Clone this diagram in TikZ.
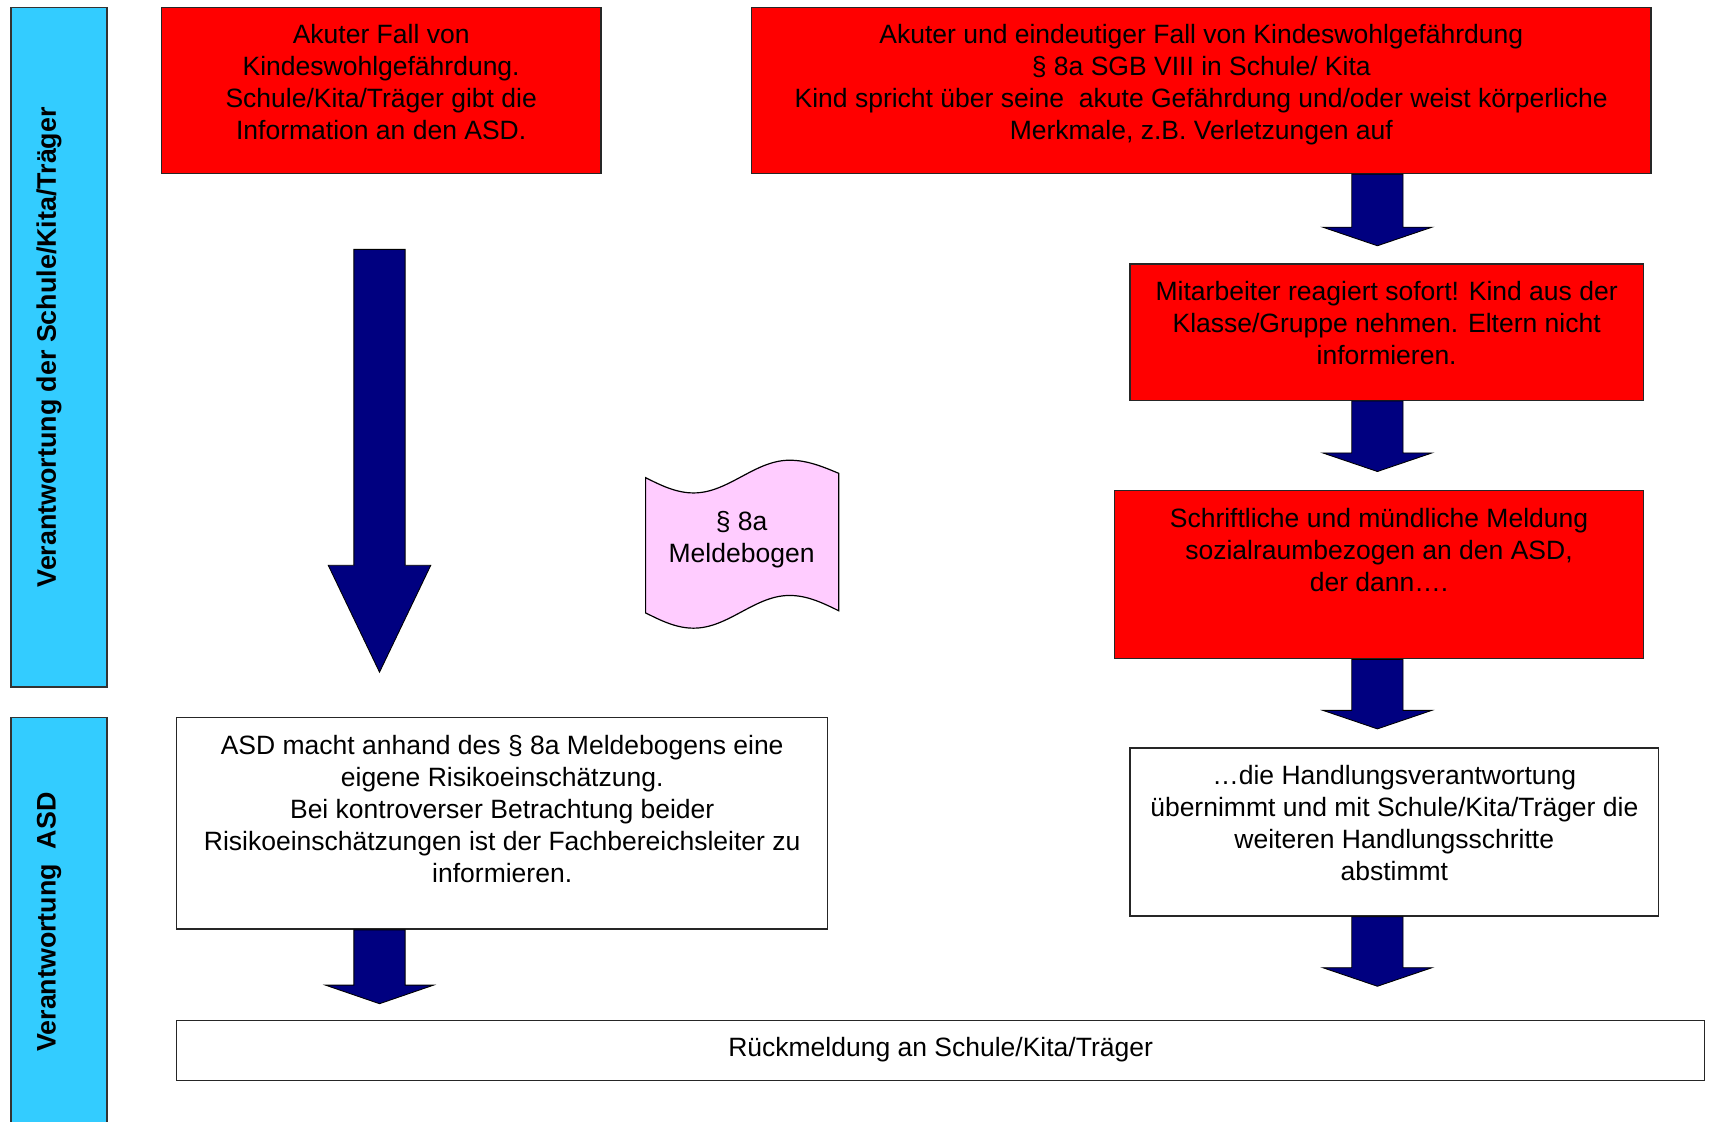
\documentclass[tikz,border=0pt]{standalone}
\usepackage{fontspec}
\setmainfont{Liberation Sans}
\usetikzlibrary{calc}
\definecolor{bandcyan}{HTML}{33CCFF}
\definecolor{boxred}{HTML}{FF0000}
\definecolor{arrnavy}{HTML}{000080}
\definecolor{tapepink}{HTML}{FFCCFF}
\tikzset{
  band/.style={draw=black!80, line width=1.3pt, fill=bandcyan, inner sep=0pt},
  redbox/.style={draw=black!85, line width=1.3pt, fill=boxred, inner sep=0pt},
  whitebox/.style={draw=black!85, line width=1.3pt, fill=white, inner sep=0pt},
  txt/.style={font=\fontsize{24.3}{29.3}\selectfont, align=center, inner sep=0pt, anchor=north},
  bandtxt/.style={font=\fontsize{24.6}{29.3}\selectfont\bfseries, inner sep=0pt, rotate=90},
  arrowfill/.style={fill=arrnavy, draw=black, line width=0.8pt, line join=miter},
  tape/.style={fill=tapepink, draw=black, line width=1.1pt}
}
% block arrow: start, tip, half shaft width, half head width, head length
\newcommand{\blockarr}[5]{%
  \path[arrowfill] let \p1=#1, \p2=#2 in
    (\x1-#3,\y1) -- (\x1+#3,\y1) -- (\x1+#3,\y2+#5) -- (\x1+#4,\y2+#5)
    -- (\x1,\y2) -- (\x1-#4,\y2+#5) -- (\x1-#3,\y2+#5) -- cycle;}
\begin{document}
\begin{tikzpicture}[x=1pt, y=-1pt]
\useasboundingbox (0,0) rectangle (1568,1028);

% lanes
\node[band, minimum width=88pt, minimum height=623pt] (lane1) at (54,318.5) {};
\node[band, minimum width=88pt, minimum height=382pt] (lane2) at (54,849) {};
\node[bandtxt] (lane1t) at (45,318.5) {Verantwortung der Schule/Kita/Träger};
\node[bandtxt] (lane2t) at (45,845.5) {Verantwortung\ \ ASD};

% boxes
\node[redbox, minimum width=403pt, minimum height=152pt] (A) at (349.5,83) {};
\node[redbox, minimum width=825pt, minimum height=152pt] (B) at (1101.5,83) {};
\node[redbox, minimum width=471pt, minimum height=125pt] (C) at (1271.5,304.5) {};
\node[redbox, minimum width=485pt, minimum height=154pt] (D) at (1264.5,527) {};
\node[whitebox, minimum width=485pt, minimum height=154pt] (E) at (1278.5,763) {};
\node[whitebox, minimum width=597pt, minimum height=194pt] (F) at (460.5,755) {};
\node[whitebox, minimum width=1401pt, minimum height=55pt] (G) at (862.5,963.5) {};

% texts
\node[txt] (At) at ($(A.north)+(0,12.5)$) {\strut Akuter Fall von\\Kindeswohlgefährdung.\\Schule/Kita/Träger gibt die\\Information an den ASD.};
\node[txt] (Bt) at ($(B.north)+(0,12.5)$) {\strut Akuter und eindeutiger Fall von Kindeswohlgefährdung\\§ 8a SGB VIII in Schule/ Kita\\Kind spricht über seine\ \ akute Gefährdung und/oder weist körperliche\\Merkmale, z.B. Verletzungen auf};
\node[txt] (Ct) at ($(C.north)+(0,13.5)$) {\strut Mitarbeiter reagiert sofort! Kind aus der\\Klasse/Gruppe nehmen. Eltern nicht\\informieren.};
\node[txt] (Dt) at ($(D.north)+(0,13.5)$) {\strut Schriftliche und mündliche Meldung\\sozialraumbezogen an den ASD,\\der dann….};
\node[txt] (Et) at ($(E.north)+(0,13.5)$) {\strut …die Handlungsverantwortung\\übernimmt und mit Schule/Kita/Träger die\\weiteren Handlungsschritte\\abstimmt};
\node[txt] (Ft) at ($(F.north)+(0,13.5)$) {\strut ASD macht anhand des § 8a Meldebogens eine\\eigene Risikoeinschätzung.\\Bei kontroverser Betrachtung beider\\Risikoeinschätzungen ist der Fachbereichsleiter zu\\informieren.};
\node[txt] (Gt) at ($(G.north)+(0,12.5)$) {\strut Rückmeldung an Schule/Kita/Träger};

% tape shape (Meldebogen)
\draw[tape] (592,438) sin (636,452) cos (680,437) sin (724,422) cos (769,434)
  -- (769,560) sin (724,546) cos (680,561) sin (636,576) cos (592,562) -- cycle;
\node[txt] (Mt) at (680,466) {\strut § 8a\\Meldebogen};

% arrow axes
\coordinate (axR) at (1263,0);
\coordinate (axL) at (348,0);

% block arrows
\blockarr{($(A.south -| axL)+(0,69)$)}{($(F.north -| axL)+(0,-41)$)}{23.5pt}{47pt}{98pt}
\blockarr{(B.south -| axR)}{($(C.north -| axR)+(0,-16)$)}{23.5pt}{50pt}{17pt}
\blockarr{(C.south -| axR)}{($(D.north -| axR)+(0,-17)$)}{23.5pt}{50pt}{17pt}
\blockarr{(D.south -| axR)}{($(E.north -| axR)+(0,-17)$)}{23.5pt}{50pt}{17pt}
\blockarr{(E.south -| axR)}{($(G.north -| axR)+(0,-31)$)}{23.5pt}{50pt}{17pt}
\blockarr{(F.south -| axL)}{($(G.north -| axL)+(0,-15)$)}{23.5pt}{49.5pt}{17pt}
\end{tikzpicture}
\end{document}
